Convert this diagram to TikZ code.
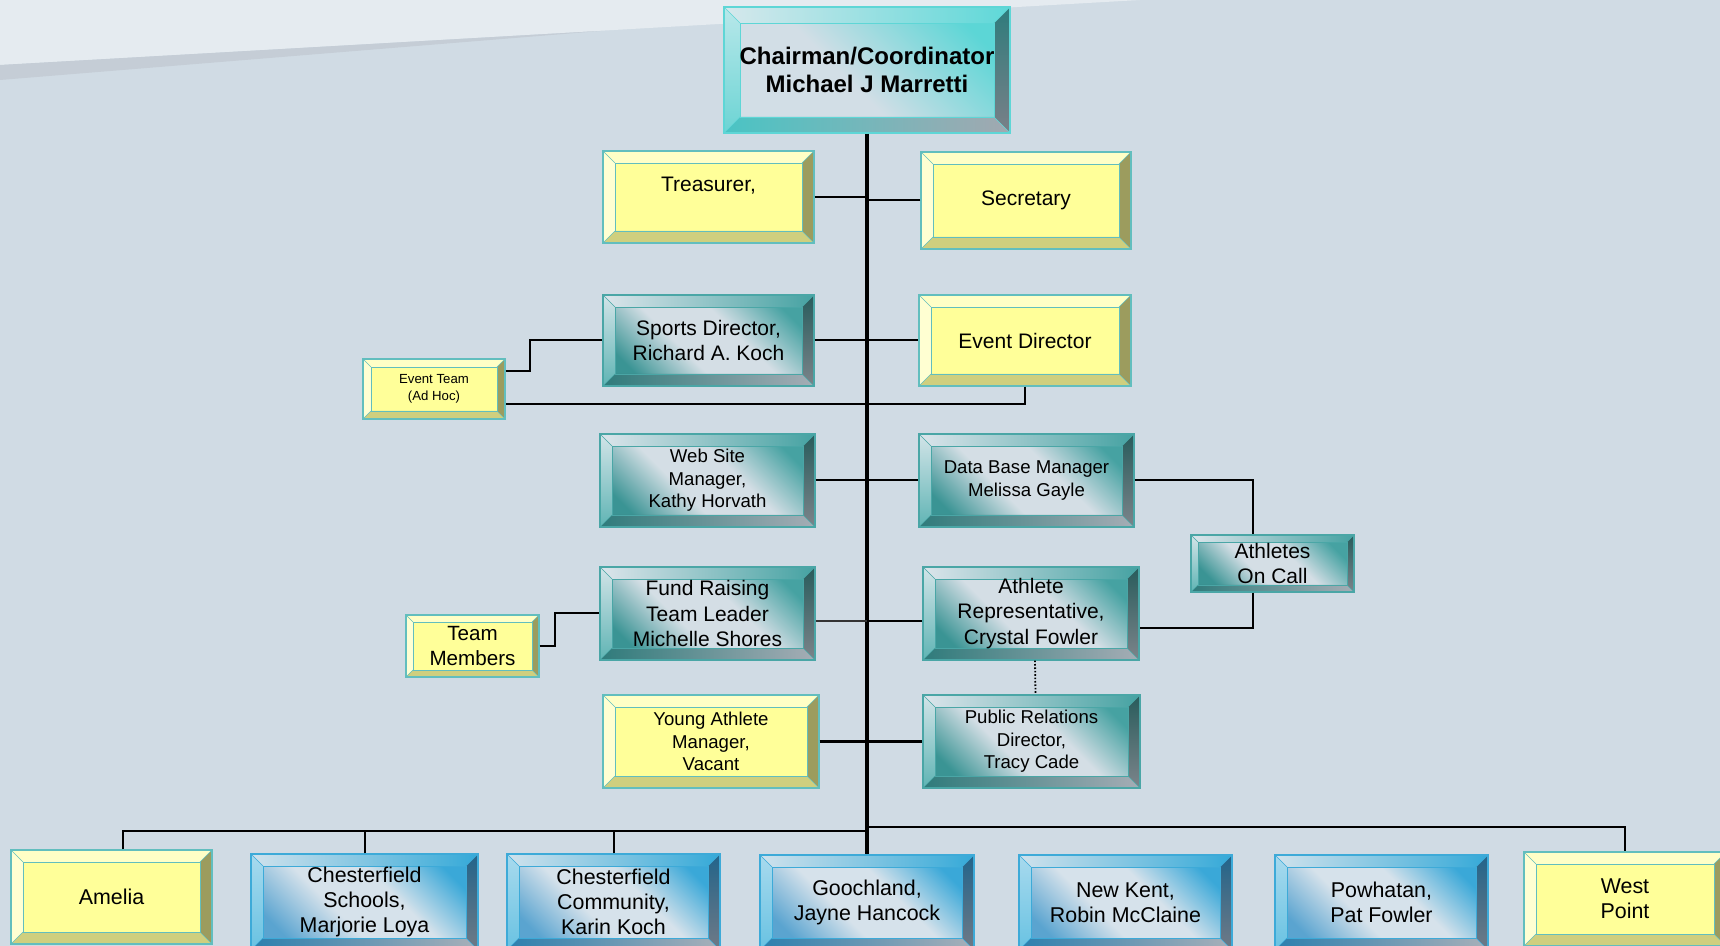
\documentclass[tikz,border=0pt]{standalone}
\usepackage{fontspec}
\setmainfont{Liberation Sans}
\usetikzlibrary{calc}
% background
\definecolor{bgmain}{HTML}{D0DBE4}
\definecolor{bglight}{HTML}{E5EBF0}
\definecolor{bgband}{HTML}{C5CDD6}
% yellow
\definecolor{ylF}{HTML}{FFFF99}
\definecolor{ylT}{HTML}{FFFFC6}
\definecolor{ylL}{HTML}{FFFFD2}
\definecolor{ylR}{HTML}{9C9C5E}
\definecolor{ylB}{HTML}{CFCF7E}
\definecolor{ylD}{HTML}{62BEBE}
% teal
\definecolor{tlA}{HTML}{3A9494}
\definecolor{tlAt}{HTML}{46A2A2}
\definecolor{tlM}{HTML}{D4DEE5}
\definecolor{tlTa}{HTML}{DCE5EB}
\definecolor{tlTb}{HTML}{45A2A2}
\definecolor{tlLa}{HTML}{D2E4E8}
\definecolor{tlLb}{HTML}{5FB4B4}
\definecolor{tlRa}{HTML}{285C5C}
\definecolor{tlRb}{HTML}{7C848A}
\definecolor{tlBa}{HTML}{2F7B7B}
\definecolor{tlBb}{HTML}{A5ADB5}
\definecolor{tlD}{HTML}{4AA6A6}
% chairman
\definecolor{chF1}{HTML}{D2DEE6}
\definecolor{chF2}{HTML}{5CD6D6}
\definecolor{chTa}{HTML}{D6E8EC}
\definecolor{chTb}{HTML}{5ED8D8}
\definecolor{chLa}{HTML}{B8E8EA}
\definecolor{chLb}{HTML}{6CD4D4}
\definecolor{chRa}{HTML}{2E7C7C}
\definecolor{chRb}{HTML}{7A8088}
\definecolor{chBa}{HTML}{4AC4C4}
\definecolor{chBb}{HTML}{A2A8B0}
\definecolor{chD}{HTML}{5ED6D6}
% blue
\definecolor{blA}{HTML}{5AA4D0}
\definecolor{blAt}{HTML}{3AA8D8}
\definecolor{blM}{HTML}{D6E2EB}
\definecolor{blTa}{HTML}{D0E2EC}
\definecolor{blTb}{HTML}{34A9D8}
\definecolor{blLa}{HTML}{A8DAEE}
\definecolor{blLb}{HTML}{68C2E2}
\definecolor{blRa}{HTML}{22648A}
\definecolor{blRb}{HTML}{707A86}
\definecolor{blBa}{HTML}{2C7FAE}
\definecolor{blBb}{HTML}{A8B0B9}
\definecolor{blD}{HTML}{3DAAD8}

\pgfdeclareverticalshading{tealface}{100bp}{color(0bp)=(tlA); color(25bp)=(tlA); color(42bp)=(tlM); color(58bp)=(tlM); color(75bp)=(tlAt); color(100bp)=(tlAt)}
\pgfdeclareverticalshading{blueface}{100bp}{color(0bp)=(blA); color(25bp)=(blA); color(42bp)=(blM); color(58bp)=(blM); color(75bp)=(blAt); color(100bp)=(blAt)}
\pgfdeclareverticalshading{chairface}{100bp}{color(0bp)=(chF1); color(25bp)=(chF1); color(45bp)=(chF1); color(75bp)=(chF2); color(100bp)=(chF2)}

\newcommand\normtxt{\fontsize{10.5}{12.8}\selectfont}
\newcommand\smalltxt{\fontsize{9.3}{11.3}\selectfont}
\newcommand\tinytxt{\fontsize{6.6}{8.5}\selectfont}
\newcommand\bottxt{\fontsize{10.7}{12.5}\selectfont}
\newcommand\chairtxt{\fontsize{12}{14}\selectfont\bfseries}
\def\bevw{12}

% \bx[style]{name}{x1}{y1}{x2}{y2}{text}  (coordinates in pixels)
\newcommand\bx[7][]{%
  \pgfmathsetmacro\bxw{(#5-#3)*0.5}%
  \pgfmathsetmacro\bxh{(#6-#4)*0.5}%
  \pgfmathsetmacro\bxcx{(#3+#5)/2}%
  \pgfmathsetmacro\bxcy{(#4+#6)/2}%
  \node[#1, minimum width=\bxw pt, minimum height=\bxh pt] (#2) at (\bxcx,\bxcy) {#7};%
}

\tikzset{
  bcols/.code n args={9}{\def\bTa{#1}\def\bTb{#2}\def\bLa{#3}\def\bLb{#4}\def\bRa{#5}\def\bRb{#6}\def\bBa{#7}\def\bBb{#8}\def\bDc{#9}},
  bw/.code={\def\bevw{#1}},
  bevelbox/.style={inner sep=0pt, align=center, font=\normtxt, line width=0.6pt,
    path picture={
      \path (path picture bounding box.north west) coordinate (ppnw)
            (path picture bounding box.north east) coordinate (ppne)
            (path picture bounding box.south west) coordinate (ppsw)
            (path picture bounding box.south east) coordinate (ppse);
      \shade[left color=\bTa, right color=\bTb] (ppnw) -- (ppne) -- ([shift={(-\bevw,\bevw)}]ppne) -- ([shift={(\bevw,\bevw)}]ppnw) -- cycle;
      \shade[top color=\bLa, bottom color=\bLb] (ppnw) -- ([shift={(\bevw,\bevw)}]ppnw) -- ([shift={(\bevw,-\bevw)}]ppsw) -- (ppsw) -- cycle;
      \shade[top color=\bRa, bottom color=\bRb] (ppne) -- (ppse) -- ([shift={(-\bevw,-\bevw)}]ppse) -- ([shift={(-\bevw,\bevw)}]ppne) -- cycle;
      \shade[left color=\bBa, right color=\bBb] (ppsw) -- (ppse) -- ([shift={(-\bevw,-\bevw)}]ppse) -- ([shift={(\bevw,-\bevw)}]ppsw) -- cycle;
      \draw[draw=\bDc, line width=0.45pt] ([shift={(\bevw,\bevw)}]ppnw) rectangle ([shift={(-\bevw,-\bevw)}]ppse);
      \draw[draw=\bDc, line width=0.3pt] (ppnw) -- ([shift={(\bevw,\bevw)}]ppnw)
            (ppne) -- ([shift={(-\bevw,\bevw)}]ppne)
            (ppsw) -- ([shift={(\bevw,-\bevw)}]ppsw)
            (ppse) -- ([shift={(-\bevw,-\bevw)}]ppse);
    }},
  ylw/.style={bevelbox, fill=ylF, draw=ylD, bcols={ylT}{ylT}{ylL}{ylL}{ylR}{ylR}{ylB}{ylB}{ylD}},
  tl/.style={bevelbox, shade, shading=tealface, shading angle=-45, draw=tlD, bcols={tlTa}{tlTb}{tlLa}{tlLb}{tlRa}{tlRb}{tlBa}{tlBb}{tlD}},
  bl/.style={bevelbox, shade, shading=blueface, shading angle=-45, draw=blD, bcols={blTa}{blTb}{blLa}{blLb}{blRa}{blRb}{blBa}{blBb}{blD}, font=\bottxt},
  chr/.style={bevelbox, shade, shading=chairface, shading angle=-45, draw=chD, bcols={chTa}{chTb}{chLa}{chLb}{chRa}{chRb}{chBa}{chBb}{chD}, font=\chairtxt, bw=16},
  conn/.style={line width=1pt, black},
  fconn/.style={line width=1pt, black!80},
  thickconn/.style={line width=1.4pt, black},
  mainln/.style={line width=2pt, black},
  busln/.style={line width=1.3pt, black},
  dropln/.style={line width=1pt, black},
  dotln/.style={line width=0.9pt, black, dash pattern=on 0.8pt off 0.9pt},
}

\begin{document}
\begin{tikzpicture}[x=0.5pt,y=-0.5pt]
\useasboundingbox (0,0) rectangle (1720,946);
\clip (0,0) rectangle (1720,946);
% background
\fill[bgmain] (0,0) rectangle (1720,946);
\fill[bglight] (0,0) -- (1140,0) -- (0,65) -- cycle;
\fill[bgband] (0,65) -- (600,31) -- (0,80) -- cycle;

% boxes
\bx[chr]{chair}{724}{7}{1010}{133}{Chairman/Coordinator\\Michael J Marretti}
\bx[ylw]{treas}{603}{151}{814}{243}{Treasurer,\\~}
\bx[ylw]{sec}{921}{152}{1131}{249}{Secretary}
\bx[tl]{sports}{603}{295}{814}{386}{Sports Director,\\Richard A. Koch}
\bx[ylw]{event}{919}{295}{1131}{386}{Event Director}
\bx[ylw, bw=8, font=\tinytxt]{evteam}{363}{359}{505}{419}{Event Team\\(Ad Hoc)}
\bx[tl, font=\smalltxt]{web}{600}{434}{815}{527}{Web Site\\Manager,\\Kathy Horvath}
\bx[tl, font=\smalltxt]{db}{919}{434}{1134}{527}{Data Base Manager\\Melissa Gayle}
\bx[tl, bw=7]{aoc}{1191}{535}{1354}{592}{Athletes\\On Call}
\bx[tl]{fr}{600}{567}{815}{660}{Fund Raising\\Team Leader\\Michelle Shores}
\bx[tl]{ar}{923}{567}{1139}{660}{Athlete\\Representative,\\Crystal Fowler}
\bx[ylw, bw=7, font=\fontsize{10.3}{12.5}\selectfont]{tm}{406}{615}{539}{677}{Team\\Members}
\bx[ylw, font=\smalltxt]{ya}{603}{695}{819}{788}{Young Athlete\\Manager,\\Vacant}
\bx[tl, font=\smalltxt]{pr}{923}{695}{1140}{788}{Public Relations\\Director,\\Tracy Cade}

\bx[ylw, font=\bottxt]{amelia}{11}{850}{212}{944}{Amelia}
\bx[bl]{cs}{251}{854}{478}{950}{Chesterfield\\Schools,\\Marjorie Loya}
\bx[bl]{cc}{507}{854}{720}{950}{Chesterfield\\Community,\\Karin Koch}
\bx[bl]{gooch}{760}{855}{974}{950}{Goochland,\\Jayne Hancock}
\bx[bl]{nk}{1019}{855}{1232}{950}{New Kent,\\Robin McClaine}
\bx[bl]{pow}{1275}{855}{1488}{950}{Powhatan,\\Pat Fowler}
\bx[ylw, font=\bottxt]{wp}{1524}{852}{1726}{946}{West\\Point}

% connectors
\draw[mainln] (chair.south) -- (gooch.north);
\draw[conn] (treas.east) -- (treas.east -| chair.south);
\draw[conn] (sec.west) -- (sec.west -| chair.south);
\draw[conn] (sports.east) -- (event.west);
\draw[conn] ([yshift=-6.5pt]evteam.north east) -- ++(24,0) |- (sports.west);
\draw[conn] (event.south) |- ([yshift=8pt]evteam.south east);
\draw[conn] (web.east) -- (db.west);
\draw[conn] (db.east) -| ([xshift=-9.75pt]aoc.north);
\draw[conn] ([xshift=-9.75pt]aoc.south) |- ([yshift=-7.5pt]ar.east);
\draw[fconn] ([yshift=-3.75pt]fr.east) -- ([yshift=-3.75pt]fr.east -| chair.south);
\draw[conn] ([yshift=-3.75pt]fr.east -| chair.south) -- ([yshift=-3.75pt]ar.west);
\draw[conn] (tm.east) -- ++(15,0) |- (fr.west);
\draw[dotln] ([xshift=2pt]ar.south) -- ([xshift=2pt]pr.north);
\draw[thickconn] (ya.east) -- (pr.west);
\coordinate (busl) at (867,831);
\coordinate (busr) at (867,827);
\draw[busln] ([xshift=5.75pt]amelia.north) |- (busl);
\draw[dropln] (cs.north) -- (cs.north |- busl);
\draw[dropln] (cc.north) -- (cc.north |- busl);
\draw[busln] (busr) -| (wp.north);
\end{tikzpicture}
\end{document}
